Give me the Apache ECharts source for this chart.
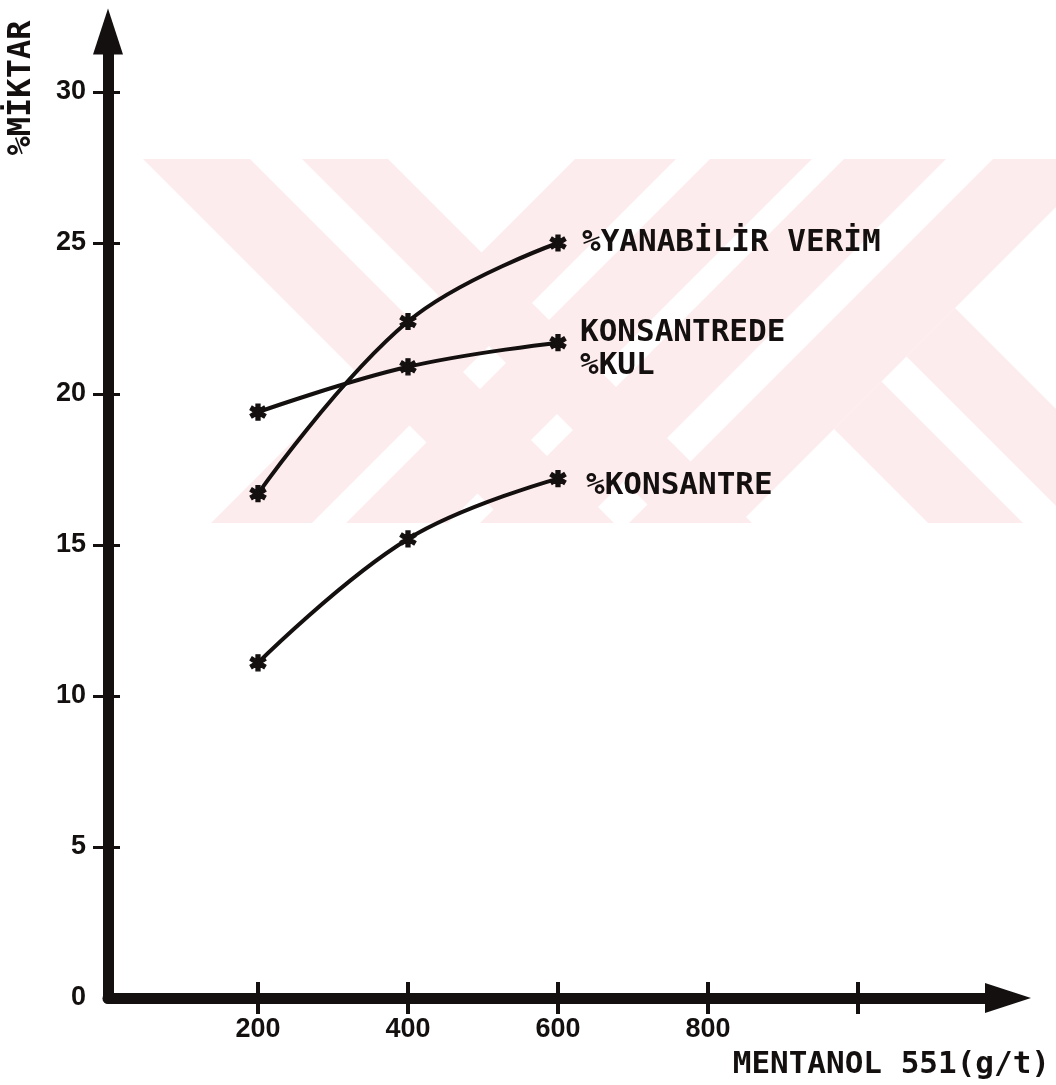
<!DOCTYPE html>
<html>
<head>
<meta charset="utf-8">
<script src="https://cdn.jsdelivr.net/npm/echarts@6/dist/echarts.min.js"></script>
<style>
  html, body { margin: 0; padding: 0; background: #ffffff; }
  #chart { width: 1056px; height: 1085px; }
</style>
</head>
<body>
<div id="chart"></div>
<script>
// Collector dosage (g/t) and measured percentages
const doses = [200, 400, 600];
const yanabilirVerim = [16.7, 22.4, 25.0];
const konsantredeKul = [19.4, 20.9, 21.7];
const konsantre = [11.1, 15.2, 17.2];

const seriesNames = ['%YANABİLİR VERİM', 'KONSANTREDE\n%KUL', '%KONSANTRE'];

// Axis ticks and labels
const yTickValues = [5, 10, 15, 20, 25, 30];
const yLabelValues = [0, 5, 10, 15, 20, 25, 30];
const xTickValues = [200, 400, 600, 800, 1000];
const xLabelValues = [200, 400, 600, 800];

const INK = '#141010';
const TYPE_FONT = '"DejaVu Sans Mono", monospace';
const NUM_FONT = '"Liberation Sans", Arial, sans-serif';

// Asterisk-like point marker
const STAR = 'path://M-1.3,-5L1.3,-5L1.3,-2.2L3.8,-3.7L5.1,-1.5L2.6,0L5.1,1.5L3.8,3.7L1.3,2.2L1.3,5L-1.3,5L-1.3,2.2L-3.8,3.7L-5.1,1.5L-2.6,0L-5.1,-1.5L-3.8,-3.7L-1.3,-2.2Z';

function pairs(xs, ys) { return xs.map((x, i) => [x, ys[i]]); }

// Pale background emblem made of diagonal bands
const EMBLEM = '#fdecee';
const bandTop = 159, bandBottom = 523, bandH = bandBottom - bandTop;
function slashBand(a, b) { // "/" band, given x-range at the top edge
  return [[a, bandTop], [b, bandTop], [b - bandH, bandBottom], [a - bandH, bandBottom]];
}
function backBand(a, b) { // "\" band, given x-range at the top edge
  return [[a, bandTop], [b, bandTop], [b + bandH, bandBottom], [a + bandH, bandBottom]];
}
const emblemShapes = [
  slashBand(575, 676), slashBand(710, 812), slashBand(844, 946), slashBand(993, 1104),
  backBand(143, 250), backBand(302, 388),
  [[834, 429], [881.5, 381.5], [1023, 523], [928, 523]],
  [[906.5, 356.5], [955, 308], [1170, 523], [1073, 523]]
];

const lineSeries = (name, values, labelOpt) => ({
  name: name,
  type: 'line',
  xAxisIndex: 0,
  yAxisIndex: 0,
  smooth: 0.4,
  data: pairs(doses, values),
  symbol: STAR,
  symbolSize: 16,
  itemStyle: { color: INK, borderColor: INK, borderWidth: 1.2 },
  lineStyle: { color: INK, width: 4 },
  endLabel: Object.assign({
    show: true,
    formatter: name,
    color: INK,
    fontFamily: TYPE_FONT,
    fontWeight: 'bold',
    fontSize: 31,
    lineHeight: 33,
    align: 'left'
  }, labelOpt),
  z: 5
});

const chart = echarts.init(document.getElementById('chart'), null, { renderer: 'canvas' });
chart.setOption({
  animation: false,
  backgroundColor: '#ffffff',
  grid: { left: 108, right: 48, top: 31.6, bottom: 87, containLabel: false },
  graphic: [
    {
      type: 'group',
      z: -10,
      children: emblemShapes.map(pts => ({
        type: 'polygon',
        z: -10,
        shape: { points: pts },
        style: { fill: EMBLEM }
      }))
    },
    {
      type: 'text',
      x: 22,
      y: 88,
      rotation: Math.PI / 2,
      style: {
        text: '%MİKTAR',
        font: 'bold 32px ' + TYPE_FONT,
        fill: INK,
        textAlign: 'center',
        textVerticalAlign: 'middle',
        align: 'center',
        verticalAlign: 'middle'
      }
    }
  ],
  xAxis: [
    {
      type: 'value',
      min: 0,
      max: 1200,
      position: 'bottom',
      name: 'MENTANOL 551(g/t)',
      nameLocation: 'end',
      nameGap: 42,
      nameTextStyle: {
        color: INK,
        fontFamily: TYPE_FONT,
        fontWeight: 'bold',
        fontSize: 31,
        align: 'right',
        verticalAlign: 'top',
        padding: [51, 0, 0, 0]
      },
      axisLine: {
        show: true,
        symbol: ['none', 'triangle'],
        symbolSize: [30, 46],
        lineStyle: { color: INK, width: 11 }
      },
      axisTick: { show: true, length: 16, customValues: xTickValues, lineStyle: { color: INK, width: 4 } },
      axisLabel: {
        customValues: xLabelValues,
        margin: 18,
        color: INK,
        fontFamily: NUM_FONT,
        fontWeight: 'bold',
        fontSize: 27
      },
      splitLine: { show: false }
    },
    {
      type: 'value',
      min: 0,
      max: 1200,
      position: 'bottom',
      axisLine: { show: false },
      axisTick: { show: true, inside: true, length: 16, customValues: xTickValues, lineStyle: { color: INK, width: 4 } },
      axisLabel: { show: false },
      splitLine: { show: false }
    }
  ],
  yAxis: [
    {
      type: 'value',
      min: 0,
      max: 32,
      position: 'left',
      axisLine: {
        show: true,
        symbol: ['none', 'triangle'],
        symbolSize: [30, 46],
        lineStyle: { color: INK, width: 11 }
      },
      axisTick: { show: true, length: 15, customValues: yTickValues, lineStyle: { color: INK, width: 3 } },
      axisLabel: {
        customValues: yLabelValues,
        margin: 22,
        color: INK,
        fontFamily: NUM_FONT,
        fontWeight: 'bold',
        fontSize: 27
      },
      splitLine: { show: false }
    },
    {
      type: 'value',
      min: 0,
      max: 32,
      position: 'left',
      axisLine: { show: false },
      axisTick: { show: true, inside: true, length: 12, customValues: yTickValues, lineStyle: { color: INK, width: 3 } },
      axisLabel: { show: false },
      splitLine: { show: false }
    }
  ],
  series: [
    lineSeries(seriesNames[0], yanabilirVerim, { distance: 24, offset: [0, 0] }),
    lineSeries(seriesNames[1], konsantredeKul, { distance: 22, offset: [0, 7] }),
    lineSeries(seriesNames[2], konsantre, { distance: 28, offset: [0, 7] })
  ]
});
</script>
</body>
</html>
